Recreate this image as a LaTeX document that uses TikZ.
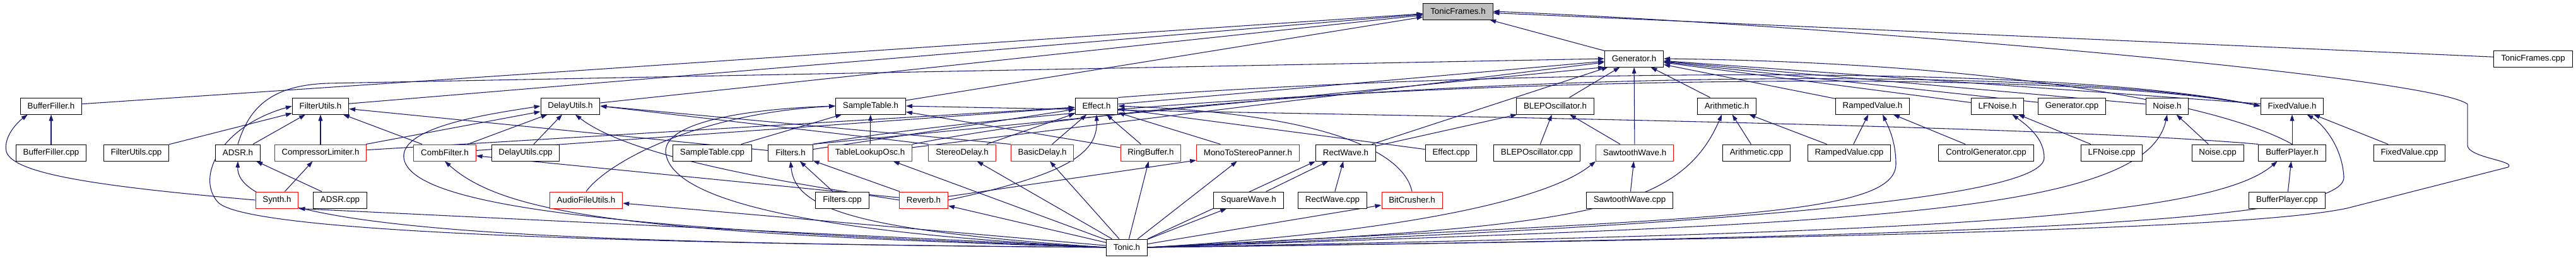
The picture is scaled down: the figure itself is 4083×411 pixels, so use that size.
\documentclass[tikz,border=0pt]{standalone}
\usepackage{fontspec}
\setmainfont{Liberation Sans}
\usetikzlibrary{arrows.meta,backgrounds}
\definecolor{edgeblue}{RGB}{25,25,112}

\begin{document}
\begin{tikzpicture}[
  x=0.75pt, y=-0.75pt,
  file/.style={draw=black, fill=white, line width=0.75pt, font=\fontsize{10}{12}\selectfont,
    minimum height=19.5pt, inner xsep=8.5pt, inner ysep=0pt},
  hot/.style={file, draw=red},
  root/.style={file, fill=black!25},
  edge/.style={->, >={Triangle[length=7.5pt,width=5pt]}, draw=edgeblue, line width=0.8pt},
]
\useasboundingbox (0,0) rectangle (4083,411);

% Top
\node[root] (tonicframes) at (2311,18) {TonicFrames.h};
\node[file] (generator) at (2590,93) {Generator.h};
\node[file] (tonicframescpp) at (4015,93) {TonicFrames.cpp};

% --- headers ---
\node[file] (bufferfiller) at (81,168) {BufferFiller.h};
\node[file] (filterutils) at (508,168) {FilterUtils.h};
\node[file] (delayutils) at (904,168) {DelayUtils.h};
\node[file] (sampletable) at (1380,168) {SampleTable.h};
\node[file] (effect) at (1738,168) {Effect.h};
\node[file] (blep) at (2465,168) {BLEPOscillator.h};
\node[file] (arithmetic) at (2737,168) {Arithmetic.h};
\node[file] (ramped) at (2968,168) {RampedValue.h};
\node[file] (lfnoise) at (3166,168) {LFNoise.h};
\node[file] (generatorcpp) at (3284,168) {Generator.cpp};
\node[file] (noise) at (3435,168) {Noise.h};
\node[file] (fixedvalue) at (3633,168) {FixedValue.h};

% --- second row ---
\node[file] (bufferfillercpp) at (81,242) {BufferFiller.cpp};
\node[file] (filterutilscpp) at (216,242) {FilterUtils.cpp};
\node[file] (adsr) at (377,242) {ADSR.h};
\node[hot] (compressor) at (508,242) {CompressorLimiter.h};
\node[hot] (comb) at (705,242) {CombFilter.h};
\node[file] (delayutilscpp) at (833,242) {DelayUtils.cpp};
\node[file] (sampletablecpp) at (1129,242) {SampleTable.cpp};
\node[file] (filters) at (1253,242) {Filters.h};
\node[hot] (tablelookup) at (1379,242) {TableLookupOsc.h};
\node[hot] (stereodelay) at (1525,242) {StereoDelay.h};
\node[hot] (basicdelay) at (1652,242) {BasicDelay.h};
\node[hot] (ringbuffer) at (1824,242) {RingBuffer.h};
\node[hot] (panner) at (1978,242) {MonoToStereoPanner.h};
\node[file] (rectwave) at (2133,242) {RectWave.h};
\node[file] (effectcpp) at (2300,242) {Effect.cpp};
\node[file] (blepcpp) at (2436,242) {BLEPOscillator.cpp};
\node[hot] (sawtooth) at (2591,242) {SawtoothWave.h};
\node[file] (arithmeticcpp) at (2784,242) {Arithmetic.cpp};
\node[file] (rampedcpp) at (2931,242) {RampedValue.cpp};
\node[file] (controlgencpp) at (3148,242) {ControlGenerator.cpp};
\node[file] (lfnoisecpp) at (3347,242) {LFNoise.cpp};
\node[file] (noisecpp) at (3515,242) {Noise.cpp};
\node[file] (bufferplayer) at (3633,242) {BufferPlayer.h};
\node[file] (fixedvaluecpp) at (3819,242) {FixedValue.cpp};

% --- third row ---
\node[hot] (synth) at (439,317) {Synth.h};
\node[file] (adsrcpp) at (539,317) {ADSR.cpp};
\node[hot] (audiofile) at (929,317) {AudioFileUtils.h};
\node[file] (filterscpp) at (1335,317) {Filters.cpp};
\node[hot] (reverb) at (1464,317) {Reverb.h};
\node[file] (squarewave) at (1979,317) {SquareWave.h};
\node[file] (rectwavecpp) at (2112,317) {RectWave.cpp};
\node[hot] (bitcrusher) at (2238,317) {BitCrusher.h};
\node[file] (sawtoothcpp) at (2583,317) {SawtoothWave.cpp};
\node[file] (bufferplayercpp) at (3625,317) {BufferPlayer.cpp};

% Bottom
\node[file] (tonic) at (1786,392) {Tonic.h};

\begin{pgfonlayer}{background}
% straight includes
\foreach \a/\b in {generator/tonicframes, tonicframescpp/tonicframes,
  bufferfiller/tonicframes, filterutils/tonicframes, delayutils/tonicframes, sampletable/tonicframes,
  effect/generator, blep/generator, arithmetic/generator, ramped/generator, lfnoise/generator,
  generatorcpp/generator, noise/generator, fixedvalue/generator, tablelookup/generator,
  rectwave/generator, sawtooth/generator, filters.north east/generator.south west,
  bufferfillercpp/bufferfiller, filterutilscpp/filterutils, adsr/filterutils, compressor/filterutils,
  comb/filterutils, filters/filterutils, compressor/delayutils, comb/delayutils, delayutilscpp/delayutils,
  stereodelay.north west/delayutils.east, basicdelay.north west/delayutils.east,
  compressor/effect, comb/effect, filters/effect, stereodelay/effect, basicdelay/effect,
  ringbuffer/effect, panner/effect, effectcpp/effect,
  sampletablecpp/sampletable, tablelookup/sampletable, ringbuffer/sampletable,
  adsrcpp/adsr, synth/compressor, reverb/comb, filterscpp/filters, reverb/filters, reverb/panner,
  squarewave/rectwave, rectwavecpp/rectwave, rectwave/blep, blepcpp/blep, sawtooth/blep,
  sawtoothcpp/sawtooth, arithmeticcpp/arithmetic, rampedcpp/arithmetic, rampedcpp/ramped,
  controlgencpp/ramped, lfnoisecpp/lfnoise, noisecpp/noise, bufferplayer/fixedvalue,
  fixedvaluecpp/fixedvalue, bufferplayercpp/bufferplayer,
  tonic.west/synth.south east, tonic/audiofile, tonic/reverb, tonic/tablelookup, tonic/stereodelay,
  tonic/basicdelay, tonic/ringbuffer, tonic/panner, tonic/squarewave,
  tonic.north east/rectwave.south west, tonic/bitcrusher}
  \draw[edge] (\a) -- (\b);

% curved includes
\draw[edge] (adsr.north) .. controls (395,170) and (430,135) .. (520,132) -- (generator.west);
\draw[edge] (synth.west) .. controls (150,295) and (20,275) .. (10,240) .. controls (5,215) and (30,192) .. (bufferfiller.-160);
\draw[edge] (audiofile.north) .. controls (960,260) and (1100,180) .. (sampletable.west);
\draw[edge] (reverb.west) .. controls (1250,290) and (1000,250) .. (delayutils.-60);
\draw[edge] (reverb.east) .. controls (1700,275) and (1740,240) .. (effect.south);
\draw[edge] (bitcrusher.north) .. controls (2225,240) and (2100,180) .. (effect.east);
\draw[edge] (bufferplayer.north) .. controls (3530,170) and (3200,100) .. (generator.east);
\draw[edge] (bufferplayer.north west) .. controls (3200,195) and (2000,180) .. (sampletable.east);
\draw[edge] (effect.north east) .. controls (2200,120) and (3200,90) .. (fixedvalue.west);
\draw[edge] (filters.north east) .. controls (1900,130) and (3200,95) .. (fixedvalue.west);
\draw[edge] (tablelookup.north east) .. controls (2000,120) and (3200,92) .. (fixedvalue.west);

% Tonic.h, left side
\draw[edge] (tonic.west) .. controls (800,385) and (380,360) .. (345,320) .. controls (310,280) and (350,200) .. (filterutils.west);
\draw[edge] (tonic.west) .. controls (900,385) and (374,370) .. (adsr.south);
\draw[edge] (tonic.west) .. controls (1000,370) and (800,340) .. (comb.south);
\draw[edge] (tonic.west) .. controls (1000,365) and (650,330) .. (640,250) .. controls (635,200) and (780,180) .. (delayutils.west);
\draw[edge] (tonic.west) .. controls (1300,370) and (1060,320) .. (1055,240) .. controls (1055,190) and (1200,172) .. (sampletable.west);
\draw[edge] (tonic.west) .. controls (1350,365) and (1260,330) .. (filters.south);

% Tonic.h, right side
\draw[edge] (tonic.east) .. controls (2200,370) and (2450,320) .. (sawtooth.south west);
\draw[edge] (tonic.east) .. controls (2500,360) and (2660,340) .. (arithmetic.-120);
\draw[edge] (tonic.east) .. controls (2700,345) and (3005,345) .. (3005,260) .. controls (3005,220) and (2990,195) .. (ramped.-40);
\draw[edge] (tonic.east) .. controls (2800,355) and (3240,310) .. (3240,250) .. controls (3240,220) and (3215,200) .. (lfnoise.-30);
\draw[edge] (tonic.east) .. controls (2900,355) and (3400,345) .. (noise.south);
\draw[edge] (tonic.east) .. controls (3000,370) and (3500,350) .. (bufferplayer.-150);
\draw[edge] (tonic.east) .. controls (3200,375) and (3720,350) .. (3715,280) .. controls (3712,230) and (3680,195) .. (fixedvalue.-30);
\draw[edge] (tonic.east) .. controls (3200,375) and (3600,355) .. (3720,330) -- (3975,265)
  .. controls (3990,255) and (3911,250) .. (3911,230) -- (3911,165) .. controls (3850,120) and (2900,40) .. (tonicframes.east);
\end{pgfonlayer}
\end{tikzpicture}
\end{document}
